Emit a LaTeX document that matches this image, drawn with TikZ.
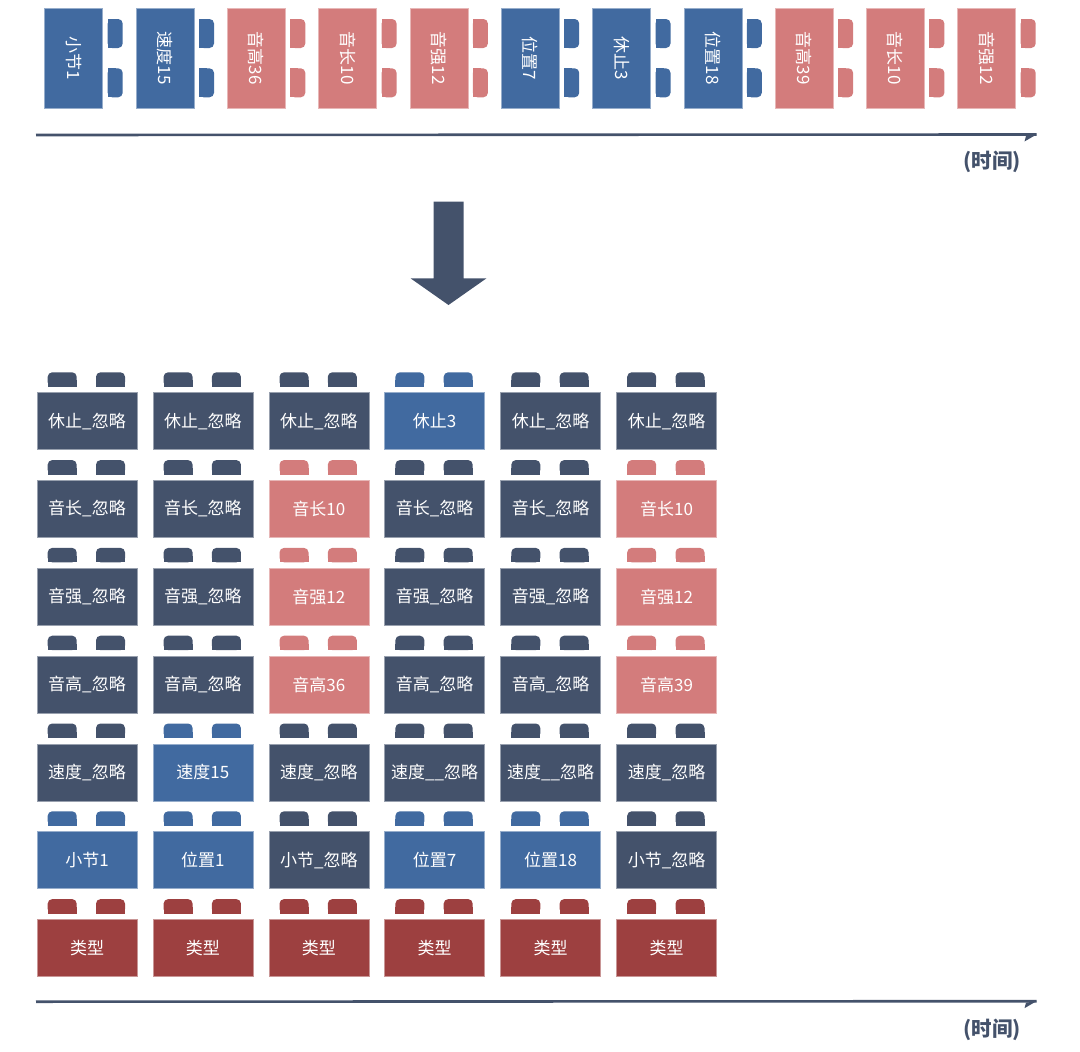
\documentclass[tikz,border=0pt]{standalone}
\usepackage{fontspec}
\setmainfont{Noto Sans CJK SC}
\definecolor{slate}{RGB}{68,82,107}
\definecolor{bblue}{RGB}{65,106,160}
\definecolor{bpink}{RGB}{211,124,124}
\definecolor{bred}{RGB}{157,64,64}
\newcommand\knobup[3]{%
  \fill[#3, rounded corners=4.5pt] (#1,#2) rectangle ++(29,14.4);
  \fill[#3] (#1,#2+8) rectangle ++(29,6.4);}
\newcommand\knobright[3]{%
  \fill[#3, rounded corners=4.5pt] (#1,#2) rectangle ++(15,29);
  \fill[#3] (#1,#2) rectangle ++(8,29);}
\tikzset{
  brick/.style={fill=#1, draw=#1!55!white, line width=0.6pt, text=white, inner sep=0pt},
  gbrick/.style={brick=#1, minimum width=100pt, minimum height=57pt, anchor=north west, font=\fontsize{17}{17}\selectfont},
  tbrick/.style={brick=#1, minimum width=100pt, minimum height=58pt, rotate=-90, font=\fontsize{17}{17}\selectfont},
  axisline/.style={draw=slate, line width=2.6pt},
  timelabel/.style={text=slate, font=\bfseries\fontsize{20.5}{20.5}\selectfont, inner sep=0pt}
}
\newcommand\gridrow[2]{%
  \foreach \lbl/\clr [count=\col from 0] in {#2} {
    \pgfmathsetmacro\gx{36.7+\col*115.9}
    \pgfmathsetmacro\gy{392.3+#1*87.8}
    \knobup{\gx+11}{\gy-20}{\clr}
    \knobup{\gx+59.3}{\gy-20}{\clr}
    \node[gbrick=\clr] (g-#1-\col) at (\gx,\gy) {\lbl};
  }}
\begin{document}
\begin{tikzpicture}[x=1pt,y=-1pt]
\useasboundingbox (0,0) rectangle (1080,1052);
% top sequence
\foreach \lbl/\clr [count=\i from 0] in {小节1/bblue,速度15/bblue,音高36/bpink,音长10/bpink,音强12/bpink,位置7/bblue,休止3/bblue,位置18/bblue,音高39/bpink,音长10/bpink,音强12/bpink} {
  \pgfmathsetmacro\tx{44.7+\i*91.3}
  \knobright{\tx+63}{19}{\clr}
  \knobright{\tx+63}{68.3}{\clr}
  \node[tbrick=\clr] (t-\i) at (\tx+29,58.3) {\lbl};
}
% top axis
\coordinate (a1s) at (36,135);
\coordinate (a1e) at (1036.5,134.5);
\draw[axisline] (a1s) -- (a1e);
\fill[slate] (a1e) -- ++(-12,7) -- ++(1.5,-5.5) -- cycle;
\node[timelabel] (tl1) at (992,162) {(时间)};
% down arrow
\fill[slate] (433.5,201.7) -- (463.5,201.7) -- (463.5,278.3) -- (486.5,278.3) -- (448.5,305) -- (410.5,278.3) -- (433.5,278.3) -- cycle;
% grid
\gridrow{0}{休止\_忽略/slate,休止\_忽略/slate,休止\_忽略/slate,休止3/bblue,休止\_忽略/slate,休止\_忽略/slate}
\gridrow{1}{音长\_忽略/slate,音长\_忽略/slate,音长10/bpink,音长\_忽略/slate,音长\_忽略/slate,音长10/bpink}
\gridrow{2}{音强\_忽略/slate,音强\_忽略/slate,音强12/bpink,音强\_忽略/slate,音强\_忽略/slate,音强12/bpink}
\gridrow{3}{音高\_忽略/slate,音高\_忽略/slate,音高36/bpink,音高\_忽略/slate,音高\_忽略/slate,音高39/bpink}
\gridrow{4}{速度\_忽略/slate,速度15/bblue,速度\_忽略/slate,速度\_\_忽略/slate,速度\_\_忽略/slate,速度\_忽略/slate}
\gridrow{5}{小节1/bblue,位置1/bblue,小节\_忽略/slate,位置7/bblue,位置18/bblue,小节\_忽略/slate}
\gridrow{6}{类型/bred,类型/bred,类型/bred,类型/bred,类型/bred,类型/bred}
% bottom axis
\coordinate (a2s) at (36,1001.7);
\coordinate (a2e) at (1036.5,1001.2);
\draw[axisline] (a2s) -- (a2e);
\fill[slate] (a2e) -- ++(-12,7) -- ++(1.5,-5.5) -- cycle;
\node[timelabel] (tl2) at (992,1029.5) {(时间)};
\end{tikzpicture}
\end{document}
